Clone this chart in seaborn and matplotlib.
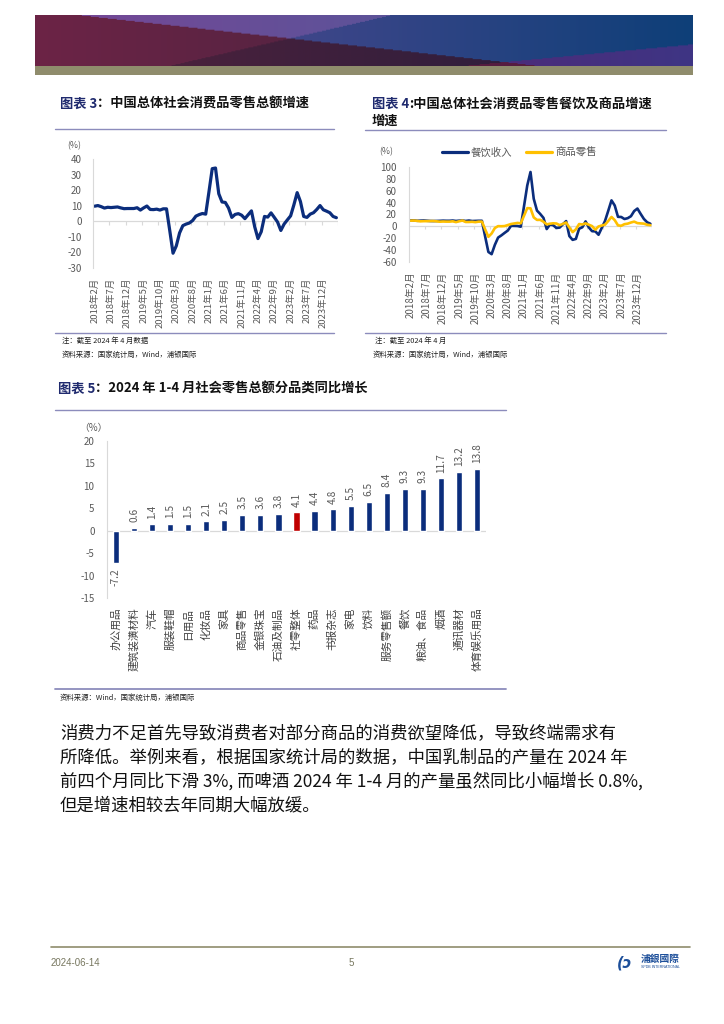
import numpy as np
import pandas as pd
import matplotlib
matplotlib.use("Agg")
import matplotlib.pyplot as plt
import seaborn as sns
from matplotlib.lines import Line2D
from matplotlib.patches import Rectangle

# ---------------- data ----------------
tick_labels = ["2018年2月", "2018年7月", "2018年12月", "2019年5月", "2019年10月",
               "2020年3月", "2020年8月", "2021年1月", "2021年6月", "2021年11月",
               "2022年4月", "2022年9月", "2023年2月", "2023年7月", "2023年12月"]

# 社会消费品零售总额同比 (%), monthly 2018-02 .. 2024-04
retail_total = [9.7, 10.1, 9.4, 8.5, 9.0, 8.8, 9.0, 9.2, 8.6, 8.1, 8.2,
                8.2, 8.2, 8.7, 7.2, 8.6, 9.8, 7.6, 7.5, 7.8, 7.2, 8.0, 8.0,
                -6.0, -20.5, -15.8, -7.5, -2.8, -1.8, -1.1, 0.5, 3.3, 4.3, 5.0, 4.6,
                19.0, 33.8, 34.2, 17.7, 12.4, 12.1, 8.5, 2.5, 4.4, 4.9, 3.9, 1.7,
                4.2, 6.7, -3.5, -11.1, -6.7, 3.1, 2.7, 5.4, 2.5, -0.5, -5.9, -1.8,
                0.9, 3.5, 10.6, 18.4, 12.7, 3.1, 2.5, 4.6, 5.5, 7.6, 10.1, 7.4,
                6.5, 5.5, 3.1, 2.3]

series_names = ["餐饮收入", "商品零售"]
catering = [10.0, 10.1, 9.4, 9.6, 9.9, 9.5, 9.1, 9.0, 9.1, 9.3, 9.6,
            9.4, 9.4, 9.8, 9.1, 9.6, 9.8, 9.1, 9.8, 9.0, 9.2, 9.4, 9.4,
            -17.0, -43.1, -46.8, -31.1, -18.9, -15.2, -11.0, -7.0, 0.9, 0.8, 0.6, -0.6,
            34.0, 68.9, 91.6, 46.4, 26.6, 20.9, 14.3, -4.5, 3.1, 2.0, -2.7, -2.0,
            3.5, 8.9, -16.4, -22.7, -21.1, -4.0, -1.5, 8.4, -1.7, -8.1, -8.4, -14.1,
            -2.5, 9.2, 26.3, 43.8, 35.1, 16.1, 15.8, 12.4, 13.8, 17.1, 25.8, 30.0,
            21.0, 12.5, 6.9, 4.4]
goods = [9.6, 9.8, 9.3, 8.5, 8.8, 8.8, 8.9, 9.0, 8.5, 7.9, 8.2,
         8.0, 8.0, 8.5, 7.2, 8.6, 9.8, 7.4, 7.4, 7.7, 7.1, 8.0, 8.0,
         -5.0, -17.6, -12.0, -2.8, 0.4, 0.2, 0.5, 2.2, 4.0, 4.9, 5.8, 5.2,
         18.0, 30.7, 30.4, 15.1, 10.9, 11.0, 7.9, 3.3, 4.5, 5.2, 4.8, 2.1,
         4.3, 6.5, -1.9, -9.7, -5.0, 3.9, 3.2, 5.1, 2.8, 0.5, -5.6, -0.1,
         1.4, 2.9, 9.1, 15.9, 10.5, 1.7, 1.0, 3.7, 4.6, 6.5, 8.0, 5.5,
         5.0, 4.6, 2.7, 2.0]

categories = ["办公用品", "建筑装潢材料", "汽车", "服装鞋帽", "日用品", "化妆品", "家具",
              "商品零售", "金银珠宝", "石油及制品", "社零整体", "药品", "书报杂志", "家电",
              "饮料", "服务零售额", "餐饮", "粮油、食品", "烟酒", "通讯器材", "体育娱乐用品"]
growth = [-7.2, 0.6, 1.4, 1.5, 1.5, 2.1, 2.5, 3.5, 3.6, 3.8, 4.1, 4.4, 4.8, 5.5,
          6.5, 8.4, 9.3, 9.3, 11.7, 13.2, 13.8]
highlight = "社零整体"

paragraph = ["消费力不足首先导致消费者对部分商品的消费欲望降低，导致终端需求有",
             "所降低。举例来看，根据国家统计局的数据，中国乳制品的产量在 2024 年",
             "前四个月同比下滑 3%, 而啤酒 2024 年 1-4 月的产量虽然同比小幅增长 0.8%,",
             "但是增速相较去年同期大幅放缓。"]

# ---------------- style ----------------
sns.set_theme(style="white")
plt.rcParams['font.family'] = ['Noto Sans CJK SC', 'DejaVu Sans']
plt.rcParams['axes.unicode_minus'] = False

NAVY = "#0b2d7c"
YELLOW = "#ffc000"
RED = "#c00000"
GRAY = "#595959"
AXGRAY = "#d9d9d9"
RULE = "#8c8cbc"
OLIVE = "#8f8c6c"
TITLE_NAVY = "#1f2a6e"

W, H = 724, 1024
fig = plt.figure(figsize=(W / 100, H / 100), dpi=100)
fig.patch.set_facecolor("white")


def rect(l, t, r, b):
    return [l / W, 1 - b / H, (r - l) / W, (b - t) / H]


def fx(x):
    return x / W


def fy(y):
    return 1 - y / H


def hline(x0, x1, y, color, lw):
    fig.add_artist(Line2D([fx(x0), fx(x1)], [fy(y), fy(y)], color=color, lw=lw,
                          transform=fig.transFigure))


renderer = fig.canvas.get_renderer()


def title(x, y, parts, size=9.5):
    cur = x
    for t, c in parts:
        tx = fig.text(fx(cur), fy(y), t, color=c, fontsize=size, fontweight='bold',
                      va='center', ha='left')
        cur += tx.get_window_extent(renderer=renderer).width


# ---------------- header banner ----------------
hb = fig.add_axes(rect(35, 15, 693, 66))
nx, ny = 660, 52
U, V = np.meshgrid(np.linspace(0, 1, nx), np.linspace(0, 1, ny))


def hexrgb(h):
    h = h.lstrip('#')
    return np.array([int(h[i:i + 2], 16) / 255 for i in (0, 2, 4)])


def lerp(c1, c2, t):
    t = np.clip(t, 0, 1)[..., None]
    return hexrgb(c1) * (1 - t) + hexrgb(c2) * t


uA = 0.07 + 0.69 * V
uB = 0.54 - 0.333 * V
img = np.zeros((ny, nx, 3))
m1 = (U <= uA) & (U <= uB)
m2 = (U > uA) & (U <= uB)
m3 = (U > uA) & (U > uB)
m4 = (U <= uA) & (U > uB)
c1 = lerp("#6c2446", "#572342", U / 0.4)
c2 = lerp("#744896", "#5c5399", (U - 0.07) / 0.47)
c3 = lerp("#40468a", "#0e3f78", (U - 0.38) / 0.62)
c4 = lerp("#4a213c", "#2e1e3c", (U - 0.2) / 0.56)
img[m1] = c1[m1]
img[m2] = c2[m2]
img[m3] = c3[m3]
img[m4] = c4[m4]
mC = (U > 0.66) & (V > 1 - (U - 0.66) / 0.34 * 0.42)
c5 = lerp("#4e2a78", "#3e3584", (U - 0.66) / 0.34)
m5 = mC & (U > uA)
img[m5] = c5[m5]
m6 = mC & (U <= uA)
img[m6] = hexrgb("#561c40")
hb.imshow(img, aspect='auto', interpolation='bilinear')
hb.axis('off')
fig.add_artist(Rectangle((fx(35), fy(75)), (693 - 35) / W, 9 / H, transform=fig.transFigure,
                         color=OLIVE, lw=0))

# ---------------- chart 3 ----------------
title(60, 104, [("图表 3", TITLE_NAVY), ("：中国总体社会消费品零售总额增速", "#111111")])
hline(55, 334, 129, RULE, 1.0)
hline(55, 334, 333, RULE, 1.0)
fig.text(fx(67), fy(146), "(%)", fontsize=6.3, color=GRAY, va='center')

n = len(retail_total)
x_idx = np.arange(n)
ax3 = fig.add_axes(rect(93, 159, 338, 268))
sns.lineplot(x=x_idx, y=retail_total, ax=ax3, color=NAVY, lw=2.3, solid_joinstyle='round',
             solid_capstyle='round')
ax3.set_xlim(-0.5, n - 0.5)
ax3.set_ylim(-30, 40)
ax3.set_yticks(range(-30, 41, 10))
ax3.set_xticks(range(0, n, 5))
ax3.set_xticklabels(tick_labels, rotation=90, fontsize=6.8, color=GRAY)
ax3.tick_params(axis='x', length=0, pad=7)
ax3.tick_params(axis='y', length=0, pad=8, labelsize=7, labelcolor=GRAY)
for s in ['top', 'right', 'bottom']:
    ax3.spines[s].set_visible(False)
ax3.spines['left'].set_color(AXGRAY)
ax3.spines['left'].set_linewidth(0.8)
ax3.axhline(0, color=AXGRAY, lw=0.9, zorder=0)
ax3.vlines(np.arange(4.5, n, 5), -2.2, 0, color=AXGRAY, lw=0.8, zorder=0)
ax3.set_xlabel("")
ax3.set_ylabel("")
ax3.patch.set_alpha(0)

fig.text(fx(62), fy(341), "注：截至 2024 年 4 月数据", fontsize=5.3, color="#222222", va='center')
fig.text(fx(62), fy(355), "资料来源：国家统计局，Wind，浦银国际", fontsize=5.3, color="#222222", va='center')

# ---------------- chart 4 ----------------
title(372, 104, [("图表 4", TITLE_NAVY), (":中国总体社会消费品零售餐饮及商品增速", "#111111")])
title(372, 121, [("增速", "#111111")])
hline(365, 666, 130, RULE, 1.0)
hline(365, 666, 333, RULE, 1.0)
fig.text(fx(379), fy(152), "(%)", fontsize=6.3, color=GRAY, va='center')

df4 = pd.DataFrame({
    "idx": np.concatenate([x_idx, x_idx]),
    "value": catering + goods,
    "series": [series_names[0]] * n + [series_names[1]] * n,
})
ax4 = fig.add_axes(rect(409, 167, 652, 262))
sns.lineplot(data=df4, x="idx", y="value", hue="series", hue_order=series_names,
             palette=[NAVY, YELLOW], lw=1.9, ax=ax4, legend=False,
             solid_joinstyle='round', solid_capstyle='round')
ax4.set_xlim(-0.5, n - 0.5)
ax4.set_ylim(-60, 100)
ax4.set_yticks(range(-60, 101, 20))
ax4.set_xticks(range(0, n, 5))
ax4.set_xticklabels(tick_labels, rotation=90, fontsize=7, color=GRAY)
ax4.tick_params(axis='x', length=0, pad=7)
ax4.tick_params(axis='y', length=0, pad=9, labelsize=7, labelcolor=GRAY)
for s in ['top', 'right', 'bottom']:
    ax4.spines[s].set_visible(False)
ax4.spines['left'].set_color(AXGRAY)
ax4.spines['left'].set_linewidth(0.8)
ax4.axhline(0, color=AXGRAY, lw=0.9, zorder=0)
ax4.vlines(np.arange(4.5, n, 5), -4, 0, color=AXGRAY, lw=0.8, zorder=0)
ax4.set_xlabel("")
ax4.set_ylabel("")
ax4.patch.set_alpha(0)
handles = [Line2D([], [], color=NAVY, lw=2.3), Line2D([], [], color=YELLOW, lw=2.3)]
ax4.legend(handles, series_names, loc='center', bbox_to_anchor=(fx(519), fy(152.5)),
           bbox_transform=fig.transFigure, ncol=2, frameon=False, fontsize=7.5,
           handlelength=2.5, handletextpad=0.3, columnspacing=1.3, labelcolor=GRAY,
           borderpad=0, borderaxespad=0)

fig.text(fx(375), fy(341), "注：截至 2024 年 4 月", fontsize=5.3, color="#222222", va='center')
fig.text(fx(373), fy(355), "资料来源：国家统计局，Wind，浦银国际", fontsize=5.3, color="#222222", va='center')

# ---------------- chart 5 ----------------
title(58, 389, [("图表 5", TITLE_NAVY), ("：2024 年 1-4 月社会零售总额分品类同比增长", "#111111")])
hline(55, 506, 410, RULE, 1.0)
hline(55, 506, 689, RULE, 1.3)
fig.text(fx(79), fy(428), "（%）", fontsize=7, color=GRAY, va='center')

df5 = pd.DataFrame({"cat": categories, "val": growth})
pal5 = {c: (RED if c == highlight else NAVY) for c in categories}
ax5 = fig.add_axes(rect(107, 441, 486, 598))
sns.barplot(data=df5, x="cat", y="val", hue="cat", palette=pal5, width=0.34,
            saturation=1, legend=False, ax=ax5, zorder=2)
for cont in ax5.containers:
    ax5.bar_label(cont, fmt='%.1f', rotation=90, padding=4, fontsize=7.3, color=GRAY)
ax5.set_xlim(-0.5, len(categories) - 0.5)
ax5.set_ylim(-15, 20)
ax5.set_yticks(range(-15, 21, 5))
ax5.set_xticks(range(len(categories)))
ax5.set_xticklabels(categories, rotation=90, fontsize=7.7, color="#404040")
ax5.tick_params(axis='x', length=0, pad=7)
ax5.tick_params(axis='y', length=0, pad=9, labelsize=7, labelcolor=GRAY)
for s in ['top', 'right', 'bottom']:
    ax5.spines[s].set_visible(False)
ax5.spines['left'].set_color(AXGRAY)
ax5.spines['left'].set_linewidth(0.8)
ax5.axhline(0, color=AXGRAY, lw=0.9, zorder=1)
ax5.set_xlabel("")
ax5.set_ylabel("")
ax5.patch.set_alpha(0)

fig.text(fx(60), fy(698), "资料来源：Wind，国家统计局，浦银国际", fontsize=5.3, color="#222222", va='center')

# ---------------- paragraph ----------------
for i, line in enumerate(paragraph):
    fig.text(fx(60), fy(733 + 24 * i), line, fontsize=12.5, color="#111111", va='center')

# ---------------- footer ----------------
hline(51, 690, 947, OLIVE, 1.2)
fig.text(fx(51), fy(963), "2024-06-14", fontsize=7, color="#77775f", va='center',
         family=['Liberation Sans', 'DejaVu Sans'])
fig.text(fx(349), fy(963), "5", fontsize=7, color="#77775f", va='center',
         family=['Liberation Sans', 'DejaVu Sans'])
fig.text(fx(617), fy(963), "(ɔ", fontsize=10.5, fontweight='bold', style='italic',
         color="#1d4f9a", va='center', family=['DejaVu Sans'])
fig.text(fx(641), fy(959), "浦銀國際", fontsize=7, fontweight='bold', color="#1d4f9a", va='center')
fig.text(fx(641), fy(967.5), "SPDB INTERNATIONAL", fontsize=2.6, color="#1d4f9a", va='center',
         family=['Liberation Sans', 'DejaVu Sans'])

fig.savefig("out.png", dpi=100, facecolor="white")
